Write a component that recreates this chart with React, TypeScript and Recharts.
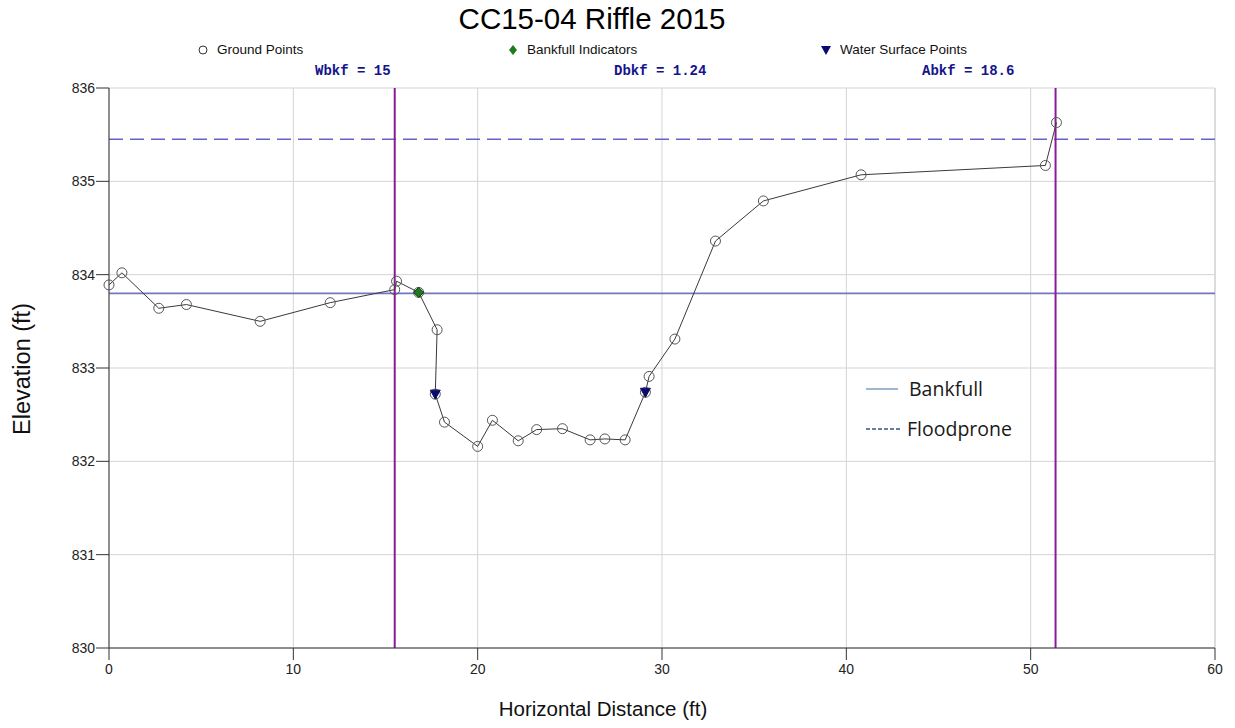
import React from 'react';
import {
  ComposedChart,
  Line,
  Scatter,
  XAxis,
  YAxis,
  CartesianGrid,
  ReferenceLine,
} from 'recharts';

// survey data
const groundX = [0, 0.7, 2.7, 4.2, 8.2, 12.0, 15.5, 15.6, 16.8, 17.8, 17.7, 18.2, 20.0, 20.8, 22.2, 23.2, 24.6, 26.1, 26.9, 28.0, 29.1, 29.3, 30.7, 32.9, 35.5, 40.8, 50.8, 51.4];
const groundY = [833.89, 834.02, 833.64, 833.68, 833.5, 833.7, 833.84, 833.93, 833.81, 833.41, 832.72, 832.42, 832.16, 832.44, 832.22, 832.34, 832.35, 832.23, 832.24, 832.23, 832.74, 832.91, 833.31, 834.36, 834.79, 835.07, 835.17, 835.63];

const bankfullX = [16.8];
const bankfullY = [833.81];

const waterX = [17.7, 29.1];
const waterY = [832.72, 832.74];

const bankfullElev = 833.8;
const floodproneElev = 835.45;
const bankfullStations = [15.5, 51.35];

const xTicks = [0, 10, 20, 30, 40, 50, 60];
const yTicks = [830, 831, 832, 833, 834, 835, 836];

const stats = ['Wbkf = 15', 'Dbkf = 1.24', 'Abkf = 18.6'];

const ground = groundX.map((x, i) => ({ x, y: groundY[i] }));
const indicators = bankfullX.map((x, i) => ({ x, y: bankfullY[i] }));
const water = waterX.map((x, i) => ({ x, y: waterY[i] }));

const Diamond = (props: any) => {
  const { cx, cy } = props;
  return <path d={`M${cx},${cy - 5} L${cx + 5},${cy} L${cx},${cy + 5} L${cx - 5},${cy} Z`} fill="#1f7a1f" stroke="#0c3d0c" />;
};

const DownTriangle = (props: any) => {
  const { cx, cy } = props;
  return <path d={`M${cx - 5},${cy - 4} L${cx + 5},${cy - 4} L${cx},${cy + 5} Z`} fill="#0a0a6e" stroke="#0a0a6e" />;
};

const sans = '"Liberation Sans", Arial, sans-serif';
const mono = '"Liberation Mono", "DejaVu Sans Mono", monospace';

export default function App() {
  return (
    <div style={{ position: 'absolute', left: 0, top: 0, width: 1235, height: 728, background: '#fff', fontFamily: sans }}>
      <div style={{ position: 'absolute', left: 0, width: 1184, top: 2, textAlign: 'center', fontSize: 29.5, color: '#000' }}>
        CC15-04 Riffle 2015
      </div>

      {/* top legend */}
      <div style={{ position: 'absolute', top: 42, left: 197, fontSize: 13.5, color: '#111', display: 'flex', alignItems: 'center' }}>
        <svg width="14" height="14"><circle cx="6" cy="7" r="4" fill="#fff" stroke="#333" /></svg>
        <span style={{ marginLeft: 6 }}>Ground Points</span>
      </div>
      <div style={{ position: 'absolute', top: 42, left: 507, fontSize: 13.5, color: '#111', display: 'flex', alignItems: 'center' }}>
        <svg width="14" height="14"><path d="M6,2 L10,7 L6,12 L2,7 Z" fill="#1f7a1f" /></svg>
        <span style={{ marginLeft: 6 }}>Bankfull Indicators</span>
      </div>
      <div style={{ position: 'absolute', top: 42, left: 820, fontSize: 13.5, color: '#111', display: 'flex', alignItems: 'center' }}>
        <svg width="14" height="14"><path d="M1,3 L11,3 L6,12 Z" fill="#0a0a6e" /></svg>
        <span style={{ marginLeft: 6 }}>Water Surface Points</span>
      </div>

      {/* bankfull stats */}
      {stats.map((s, i) => (
        <div
          key={s}
          style={{
            position: 'absolute',
            top: 63,
            left: [315, 614, 922][i],
            fontFamily: mono,
            fontWeight: 'bold',
            fontSize: 14,
            color: '#14148c',
          }}
        >
          {s}
        </div>
      ))}

      <ComposedChart
        width={1235}
        height={728}
        data={ground}
        margin={{ top: 88, right: 20, bottom: 50, left: 49 }}
      >
        <CartesianGrid stroke="#d4d4d4" />
        <XAxis
          type="number"
          dataKey="x"
          domain={[0, 60]}
          ticks={xTicks}
          interval={0}
          height={30}
          tickSize={12}
          tickMargin={4}
          stroke="#333"
          tick={{ fill: '#222', fontSize: 14, fontFamily: sans }}
        />
        <YAxis
          type="number"
          dataKey="y"
          domain={[830, 836]}
          ticks={yTicks}
          interval={0}
          width={60}
          tickSize={13}
          tickMargin={1}
          stroke="#333"
          tick={{ fill: '#222', fontSize: 14, fontFamily: sans }}
        />
        <ReferenceLine x={60} stroke="#dcdcdc" strokeWidth={2} />
        <ReferenceLine y={floodproneElev} stroke="#6464c8" strokeWidth={1.5} strokeDasharray="14 7" />
        <ReferenceLine y={bankfullElev} stroke="#7474c8" strokeWidth={1.6} />
        {bankfullStations.map((x) => (
          <ReferenceLine key={x} x={x} stroke="#8a1a9a" strokeWidth={2} />
        ))}
        <Line
          data={ground}
          dataKey="y"
          type="linear"
          stroke="#3a3a3a"
          strokeWidth={1}
          dot={{ r: 5, fill: 'none', stroke: '#555', strokeWidth: 1 }}
          activeDot={false}
          isAnimationActive={false}
        />
        <Scatter data={indicators} dataKey="y" shape={<Diamond />} isAnimationActive={false} />
        <Scatter data={water} dataKey="y" shape={<DownTriangle />} isAnimationActive={false} />
      </ComposedChart>

      {/* in-plot legend */}
      <div style={{ position: 'absolute', left: 866, top: 375, fontFamily: '"Open Sans", Lato, sans-serif', fontSize: 19.5, color: '#1a1a1a' }}>
        <div style={{ display: 'flex', alignItems: 'center', height: 27 }}>
          <svg width="34" height="4"><line x1="0" y1="2" x2="32" y2="2" stroke="#7f9cc0" strokeWidth="1.5" /></svg>
          <span style={{ marginLeft: 9 }}>Bankfull</span>
        </div>
        <div style={{ display: 'flex', alignItems: 'center', height: 27, marginTop: 13 }}>
          <svg width="34" height="4"><line x1="0" y1="2" x2="34" y2="2" stroke="#34557f" strokeWidth="1.5" strokeDasharray="4 2" /></svg>
          <span style={{ marginLeft: 7 }}>Floodprone</span>
        </div>
      </div>

      {/* axis titles */}
      <div
        style={{
          position: 'absolute',
          left: 22,
          top: 369,
          transform: 'translate(-50%, -50%) rotate(-90deg)',
          fontSize: 23.5,
          whiteSpace: 'nowrap',
          color: '#111',
        }}
      >
        Elevation (ft)
      </div>
      <div style={{ position: 'absolute', left: 0, width: 1206, top: 697, textAlign: 'center', fontSize: 20.5, color: '#111' }}>
        Horizontal Distance (ft)
      </div>
    </div>
  );
}
